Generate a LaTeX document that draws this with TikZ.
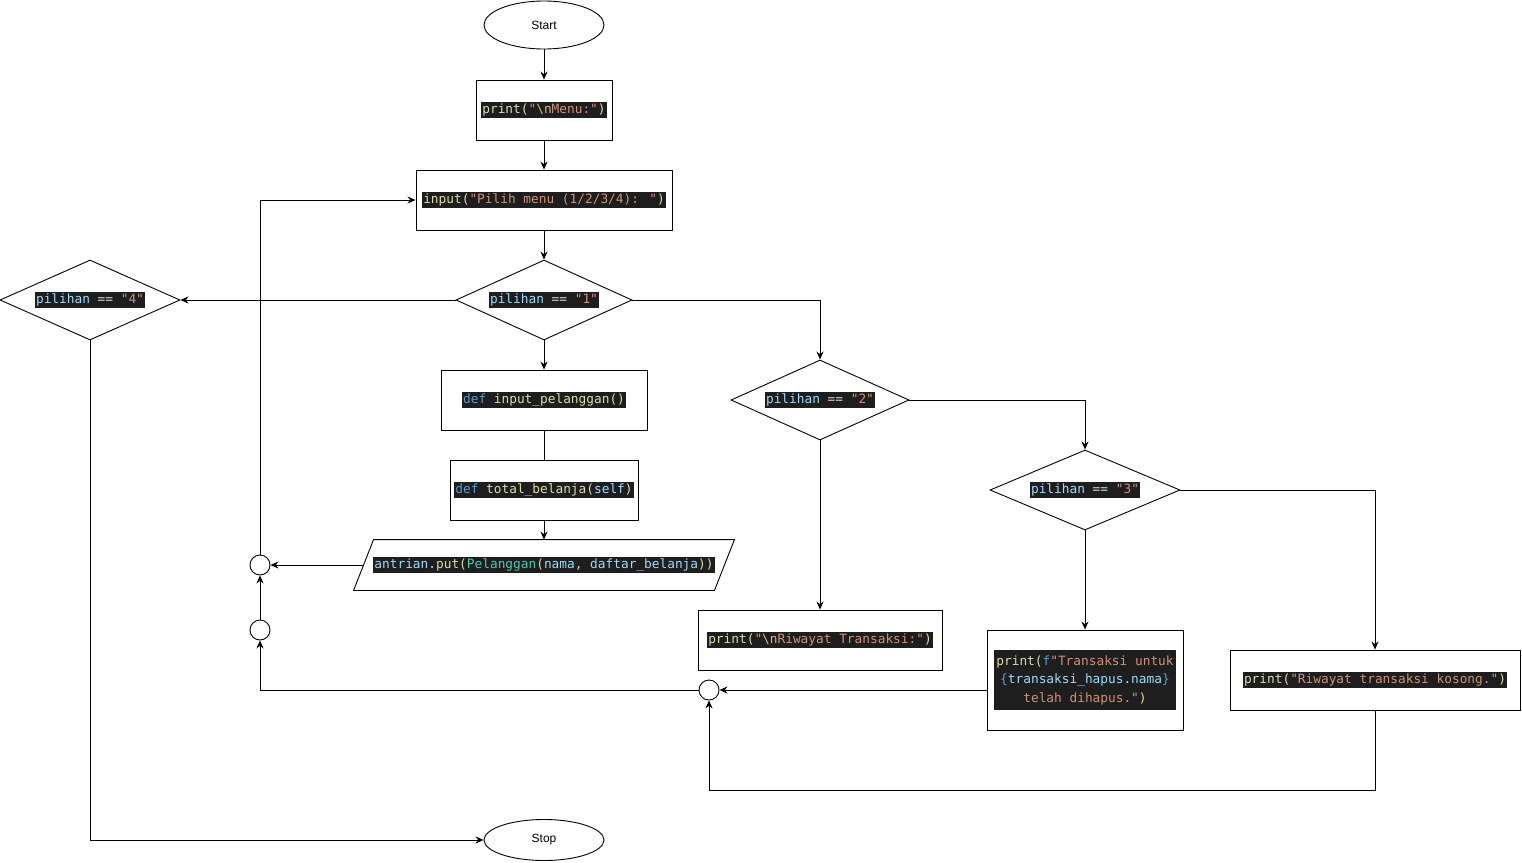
\documentclass[tikz,border=0pt]{standalone}
\usepackage{fontspec}
\setmainfont{Liberation Sans}
\newfontfamily\codefont{DejaVu Sans Mono}
\usetikzlibrary{shapes.geometric,arrows.meta}
\definecolor{codebg}{HTML}{1E1E1E}
\definecolor{cyel}{HTML}{DCDCAA}
\definecolor{cstr}{HTML}{CE9178}
\definecolor{cesc}{HTML}{D7BA7D}
\definecolor{cvar}{HTML}{9CDCFE}
\definecolor{cdef}{HTML}{569CD6}
\definecolor{ccls}{HTML}{4EC9B0}
\definecolor{cop}{HTML}{D4D4D4}
\newcommand\cy[1]{\textcolor{cyel}{#1}}
\newcommand\cs[1]{\textcolor{cstr}{#1}}
\newcommand\ce[1]{\textcolor{cesc}{#1}}
\newcommand\cv[1]{\textcolor{cvar}{#1}}
\newcommand\cd[1]{\textcolor{cdef}{#1}}
\newcommand\cg[1]{\textcolor{ccls}{#1}}
\newcommand\co[1]{\textcolor{cop}{#1}}
\newcommand\cbox[1]{{\setlength\fboxsep{1.2pt}\colorbox{codebg}{\rule[-3.6pt]{0pt}{12.4pt}#1}}}
\begin{document}
\begin{tikzpicture}[x=1pt,y=-1pt, line width=0.9pt,
  arr/.style={-{Stealth[length=8pt,width=7pt]}},
  code/.style={font=\codefont\fontsize{12.8pt}{18.5pt}\selectfont, inner sep=0pt},
  box/.style={code, draw, rectangle, minimum height=60pt},
  dec/.style={code, draw, diamond, shape aspect=2.2, minimum height=80pt},
  term/.style={draw, ellipse, minimum width=120pt, font=\fontsize{12pt}{14pt}\selectfont, inner sep=0pt},
  conn/.style={draw, circle, minimum size=20pt, inner sep=0pt}]
\useasboundingbox (0,0) rectangle (1522,862);

\node[term, minimum height=48pt] (start) at (544,25) {Start};
\node[box, minimum width=136pt] (menu) at (544,110) {\cbox{\cy{print(}\cs{"}\ce{\textbackslash n}\cs{Menu:"}\cy{)}}};
\node[box, minimum width=256pt] (inp) at (544,200) {\cbox{\cy{input(}\cs{"Pilih menu (1/2/3/4): "}\cy{)}}};
\node[dec, minimum width=176pt] (d1) at (544,300) {\cbox{\cv{pilihan} \co{==} \cs{"1"}}};
\node[dec, minimum width=180pt] (d4) at (90,300) {\cbox{\cv{pilihan} \co{==} \cs{"4"}}};
\node[box, minimum width=206pt] (ip) at (544,400) {\cbox{\cd{def} \cy{input\_pelanggan()}}};
\node[box, minimum width=188pt] (tb) at (544,490) {\cbox{\cd{def} \cy{total\_belanja(}\cv{self}\cy{)}}};
\node[code, minimum width=360pt, minimum height=50pt] (par) at (544,565) {\cbox{\cv{antrian}\co{.}\cy{put(}\cg{Pelanggan}\cy{(}\cv{nama}\co{, }\cv{daftar\_belanja}\cy{))}}};
\draw ([xshift=10pt]par.north west) -- ([xshift=10pt]par.north east) -- ([xshift=-10pt]par.south east) -- ([xshift=-10pt]par.south west) -- cycle;
\node[dec, minimum width=178pt] (d2) at (820,400) {\cbox{\cv{pilihan} \co{==} \cs{"2"}}};
\node[dec, minimum width=190pt] (d3) at (1085,490) {\cbox{\cv{pilihan} \co{==} \cs{"3"}}};
\node[box, minimum width=244pt] (riw) at (820,640) {\cbox{\cy{print(}\cs{"}\ce{\textbackslash n}\cs{Riwayat Transaksi:"}\cy{)}}};
\node[box, minimum width=196pt, minimum height=100pt] (tr) at (1085,680) {{\setlength\fboxsep{2pt}\colorbox{codebg}{\begin{tabular}{@{}c@{}}\cy{print(}\cd{f}\cs{"Transaksi untuk}\\ \cd{\{}\cv{transaksi\_hapus.nama}\cd{\}}\\ \cs{telah dihapus."}\cy{)}\end{tabular}}}};
\node[box, minimum width=290pt] (kos) at (1375,680) {\cbox{\cy{print(}\cs{"Riwayat transaksi kosong."}\cy{)}}};
\node[conn] (cA) at (260,565) {};
\node[conn] (cB) at (260,630) {};
\node[conn] (cC) at (709,690) {};
\node[term, minimum height=41pt] (stop) at (544,840) {Stop};
\coordinate (k1) at (1375,790);

\draw[arr] (start) -- (menu);
\draw[arr] (menu) -- (inp);
\draw[arr] (inp) -- (d1);
\draw[arr] (d1.west) -- (d4.east);
\draw[arr] (d1.east) -| (d2.north);
\draw[arr] (d1.south) -- (ip.north);
\draw (ip.south) -- (tb.north);
\draw[arr] (tb.south) -- (par.north);
\draw[arr] (par.west) -- (cA.east);
\draw[arr] (cA.north) |- (inp.west);
\draw[arr] (cB.north) -- (cA.south);
\draw[arr] (cC.west) -| (cB.south);
\draw[arr] (d2.east) -| (d3.north);
\draw[arr] (d2.south) -- (riw.north);
\draw[arr] (d3.east) -| (kos.north);
\draw[arr] (d3.south) -- (tr.north);
\draw[arr] (cC.east -| tr.west) -- (cC.east);
\draw[arr] (kos.south) -- (k1) -| (cC.south);
\draw[arr] (d4.south) |- (stop.west);
\end{tikzpicture}
\end{document}
